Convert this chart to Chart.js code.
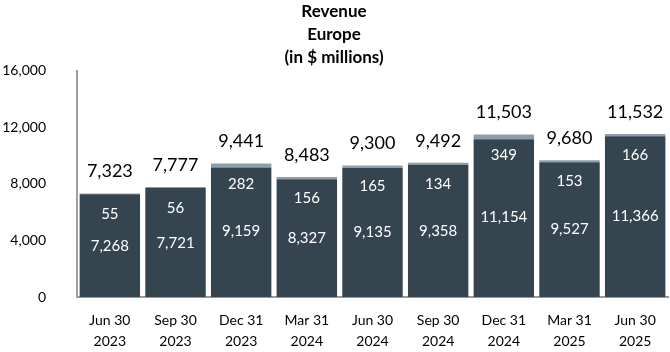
<!DOCTYPE html>
<html>
<head>
<meta charset="utf-8">
<script src="https://cdn.jsdelivr.net/npm/chart.js@4/dist/chart.umd.min.js"></script>
<style>
  html, body { margin: 0; padding: 0; background: #fff; }
  #wrap { width: 670px; height: 352px; }
</style>
</head>
<body>
<div id="wrap"><canvas id="revenue-chart"></canvas></div>
<script>
const quarters = [
    ['Jun 30', '2023'], ['Sep 30', '2023'], ['Dec 31', '2023'],
    ['Mar 31', '2024'], ['Jun 30', '2024'], ['Sep 30', '2024'],
    ['Dec 31', '2024'], ['Mar 31', '2025'], ['Jun 30', '2025']
];
const baseRevenue = [7268, 7721, 9159, 8327, 9135, 9358, 11154, 9527, 11366];
const otherRevenue = [55, 56, 282, 156, 165, 134, 349, 153, 166];
const totalRevenue = [7323, 7777, 9441, 8483, 9300, 9492, 11503, 9680, 11532];
const yTicks = [0, 4000, 8000, 12000, 16000];

const FONT = 'Lato, "Open Sans", sans-serif';
const fmt = (n) => n.toLocaleString('en-US');

// draws totals above bars and the segment values inside the dark bars
const barLabels = {
    id: 'barLabels',
    afterDatasetsDraw(chart) {
        const ctx = chart.ctx;
        const y = chart.scales.y;
        const meta = chart.getDatasetMeta(0);
        ctx.save();
        ctx.textAlign = 'center';
        ctx.textBaseline = 'middle';
        meta.data.forEach((bar, i) => {
            const top = y.getPixelForValue(totalRevenue[i]);
            const zero = y.getPixelForValue(0);
            ctx.fillStyle = '#000';
            ctx.font = '18px ' + FONT;
            ctx.fillText(fmt(totalRevenue[i]), bar.x, top - 22);
            ctx.fillStyle = '#fff';
            ctx.font = '15px ' + FONT;
            ctx.fillText(fmt(otherRevenue[i]), bar.x, top + 21);
            ctx.fillText(fmt(baseRevenue[i]), bar.x, (top + zero) / 2 + 1);
        });
        ctx.restore();
    }
};

new Chart(document.getElementById('revenue-chart'), {
    type: 'bar',
    data: {
        labels: quarters,
        datasets: [
            {
                label: 'Base',
                data: baseRevenue,
                backgroundColor: '#344550',
                borderWidth: 0,
                barPercentage: 0.92,
                categoryPercentage: 1
            },
            {
                label: 'Other',
                data: otherRevenue,
                backgroundColor: '#8e9eab',
                borderWidth: 0,
                barPercentage: 0.92,
                categoryPercentage: 1
            }
        ]
    },
    options: {
        responsive: true,
        maintainAspectRatio: false,
        animation: false,
        layout: { padding: { left: 0, right: 2, top: 0, bottom: 0 } },
        scales: {
            x: {
                stacked: true,
                afterFit: (axis) => { axis.height = 55; },
                grid: { display: false },
                border: { display: true, color: '#9a9a9a', width: 2 },
                ticks: { color: '#000', font: { family: FONT, size: 14, lineHeight: 1.5 }, padding: 5, maxRotation: 0 }
            },
            y: {
                stacked: true,
                min: 0,
                max: 16000,
                afterBuildTicks: (axis) => { axis.ticks = yTicks.map(v => ({ value: v })); },
                afterFit: (axis) => { axis.width = 77; },
                grid: { display: false },
                border: { display: true, color: '#a0a0a0', width: 2 },
                ticks: {
                    color: '#000',
                    font: { family: FONT, size: 14 },
                    padding: 23,
                    callback: (v) => fmt(v)
                }
            }
        },
        plugins: {
            legend: { display: false },
            tooltip: { enabled: false },
            title: {
                display: true,
                text: ['Revenue', 'Europe', '(in $ millions)'],
                color: '#000',
                font: { family: FONT, size: 17, weight: 'bold', lineHeight: 1.35 },
                padding: { top: 0, bottom: 2 }
            }
        }
    },
    plugins: [barLabels]
});
</script>
</body>
</html>
